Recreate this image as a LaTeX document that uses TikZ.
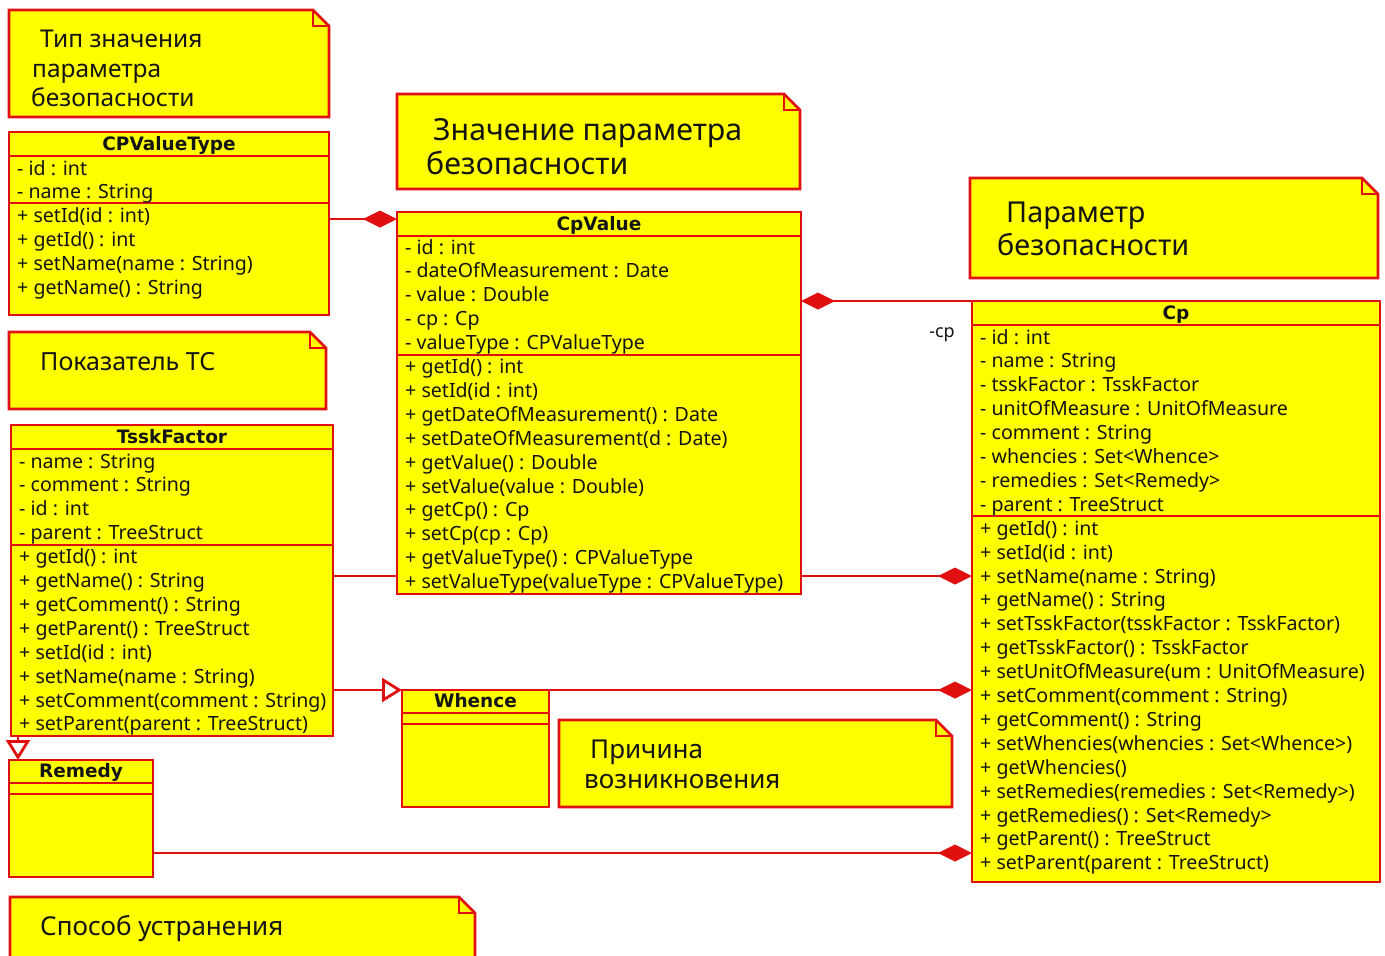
\documentclass[tikz,border=0pt]{standalone}
\usepackage{fontspec}
\setmainfont{Noto Sans}
\newfontfamily\titlefont{DejaVu Sans}
\usetikzlibrary{arrows.meta}

\definecolor{umlred}{RGB}{225,16,16}
\definecolor{umlyellow}{RGB}{255,255,0}
\definecolor{ink}{RGB}{20,20,20}

\pgfdeclarelayer{back}
\pgfsetlayers{back,main}

\tikzset{
  classbox/.style={draw=umlred, fill=umlyellow, line width=2.8pt, rectangle,
    inner sep=0pt, outer sep=0pt, anchor=north west},
  divider/.style={draw=umlred, line width=2.8pt},
  member/.style={anchor=base west, inner sep=0pt, text=ink,
    font=\fontsize{19.6}{24}\selectfont},
  classtitle/.style={anchor=base, inner sep=0pt, text=ink,
    font=\titlefont\bfseries\fontsize{18.5}{22}\selectfont},
  notebody/.style={draw=umlred, fill=umlyellow, line width=2.8pt, line join=miter},
  notefold/.style={draw=umlred, line width=1.8pt},
  notetext/.style={anchor=base west, inner sep=0pt, text=ink},
  link/.style={draw=umlred, line width=2.8pt},
  owned/.style={link, -{Diamond[length=34pt,width=17pt,fill=umlred]}},
  inherits/.style={link, -{Triangle[open,length=20pt,width=24pt,fill=white]}},
}

% class box: name, x1, y1, x2, y2, header bottom, attribute bottom, title
\newcommand\umlclass[8]{%
  \node[classbox, minimum width={(#4-#2)*1pt}, minimum height={(#5-#3)*1pt}] (#1) at (#2,#3) {};
  \draw[divider] (#2,#6) -- (#4,#6);
  \draw[divider] (#2,#7) -- (#4,#7);
  \node[classtitle] (#1-title) at ({(#2+#4)/2},{#6-6}) {#8};
}

% member lines: prefix, x, first baseline, list
\newcommand\umlmembers[4]{%
  \foreach \t [count=\i] in {#4}
    \node[member] (#1\i) at (#2,{#3+23.9*(\i-1)}) {\t};
}

% note with folded corner: name, x1, y1, x2, y2
\newcommand\umlnote[5]{%
  \node[inner sep=0pt, outer sep=0pt, anchor=north west,
        minimum width={(#4-#2)*1pt}, minimum height={(#5-#3)*1pt}] (#1) at (#2,#3) {};
  \draw[notebody] (#2,#3) -- ({#4-16},#3) -- (#4,{#3+16}) -- (#4,#5) -- (#2,#5) -- cycle;
  \draw[notefold] ({#4-16},#3) -- ({#4-16},{#3+16}) -- (#4,{#3+16});
}

\begin{document}
\begin{tikzpicture}[x=1pt,y=-1pt]
\begin{pgfonlayer}{back}
\fill[white] (0,0) rectangle (1385,956);
\end{pgfonlayer}
\useasboundingbox (0,0) rectangle (1385,956);

% ---------- notes ----------
\umlnote{nType}{9}{10}{329}{117}
\node[notetext, font=\fontsize{24.5}{28}\selectfont] (nType1) at (40,47) {Тип значения};
\node[notetext, font=\fontsize{24.5}{28}\selectfont] (nType2) at (32,77) {параметра};
\node[notetext, font=\fontsize{24.5}{28}\selectfont] (nType3) at (31,106) {безопасности};

\umlnote{nValue}{397}{94}{800}{189}
\node[notetext, font=\fontsize{30.3}{36}\selectfont] (nValue1) at (433,140) {Значение параметра};
\node[notetext, font=\fontsize{30.3}{36}\selectfont] (nValue2) at (426,174) {безопасности};

\umlnote{nParam}{970}{178}{1378}{278}
\node[notetext, font=\fontsize{28.8}{34}\selectfont] (nParam1) at (1006,222) {Параметр};
\node[notetext, font=\fontsize{28.8}{34}\selectfont] (nParam2) at (997,255) {безопасности};

\umlnote{nFactor}{9}{332}{326}{409}
\node[notetext, font=\fontsize{25}{28}\selectfont] (nFactor1) at (40,370) {Показатель ТС};

\umlnote{nWhence}{559}{720}{952}{807}
\node[notetext, font=\fontsize{26}{30}\selectfont] (nWhence1) at (590,758) {Причина};
\node[notetext, font=\fontsize{26}{30}\selectfont] (nWhence2) at (584,788) {возникновения};

\umlnote{nRemedy}{10}{897}{475}{964}
\node[notetext, font=\fontsize{26}{30}\selectfont] (nRemedy1) at (40,935) {Способ устранения};

% ---------- classes ----------
\umlclass{cpvt}{9}{132}{329}{315}{156}{203}{CPValueType}
\umlmembers{cpvt-m}{17}{175}{{- id : int},{- name : String},{+ setId(id : int)},{+ getId() : int},
  {+ setName(name : String)},{+ getName() : String}}

\umlclass{cpv}{397}{212}{801}{594}{236}{355}{CpValue}
\umlmembers{cpv-m}{405}{254}{{- id : int},{- dateOfMeasurement : Date},{- value : Double},{- cp : Cp},
  {- valueType : CPValueType},{+ getId() : int},{+ setId(id : int)},
  {+ getDateOfMeasurement() : Date},{+ setDateOfMeasurement(d : Date)},{+ getValue() : Double},
  {+ setValue(value : Double)},{+ getCp() : Cp},{+ setCp(cp : Cp)},
  {+ getValueType() : CPValueType},{+ setValueType(valueType : CPValueType)}}

\umlclass{cp}{972}{301}{1380}{882}{325}{516}{Cp}
\umlmembers{cp-m}{980}{344}{{- id : int},{- name : String},{- tsskFactor : TsskFactor},
  {- unitOfMeasure : UnitOfMeasure},{- comment : String},{- whencies : Set<Whence>},
  {- remedies : Set<Remedy>},{- parent : TreeStruct},{+ getId() : int},{+ setId(id : int)},
  {+ setName(name : String)},{+ getName() : String},{+ setTsskFactor(tsskFactor : TsskFactor)},
  {+ getTsskFactor() : TsskFactor},{+ setUnitOfMeasure(um : UnitOfMeasure)},
  {+ setComment(comment : String)},{+ getComment() : String},
  {+ setWhencies(whencies : Set<Whence>)},{+ getWhencies()},
  {+ setRemedies(remedies : Set<Remedy>)},{+ getRemedies() : Set<Remedy>},
  {+ getParent() : TreeStruct},{+ setParent(parent : TreeStruct)}}

\umlclass{tssk}{11}{425}{333}{736}{449}{545}{TsskFactor}
\umlmembers{tssk-m}{19}{468}{{- name : String},{- comment : String},{- id : int},
  {- parent : TreeStruct},{+ getId() : int},{+ getName() : String},{+ getComment() : String},
  {+ getParent() : TreeStruct},{+ setId(id : int)},{+ setName(name : String)},
  {+ setComment(comment : String)},{+ setParent(parent : TreeStruct)}}

\umlclass{whence}{402}{690}{549}{807}{713}{724}{Whence}
\umlclass{remedy}{9}{760}{153}{877}{783}{794}{Remedy}

% ---------- associations ----------
\coordinate (rowType) at (0,219);
\coordinate (rowFactor) at (0,576);
\coordinate (rowRemedy) at (0,853);
\coordinate (colRemedy) at (18,0);

\begin{pgfonlayer}{back}
\draw[owned] (cpvt.east |- rowType) -- (cpv.west |- rowType);
\draw[owned] (cp.north west) -- (cpv.east |- cp.north west);
\draw[owned] (tssk.east |- rowFactor) -- (cp.west |- rowFactor);
\draw[inherits] (tssk.east |- whence.north west) -- (whence.north west);
\draw[owned] (whence.north east) -- (cp.west |- whence.north east);
\draw[inherits] (tssk.south -| colRemedy) -- (remedy.north -| colRemedy);
\draw[owned] (remedy.east |- rowRemedy) -- (cp.west |- rowRemedy);
\end{pgfonlayer}

\node[anchor=base, inner sep=0pt, text=ink, font=\fontsize{18}{22}\selectfont] (cpRole) at (942,337) {-cp};
\end{tikzpicture}
\end{document}
